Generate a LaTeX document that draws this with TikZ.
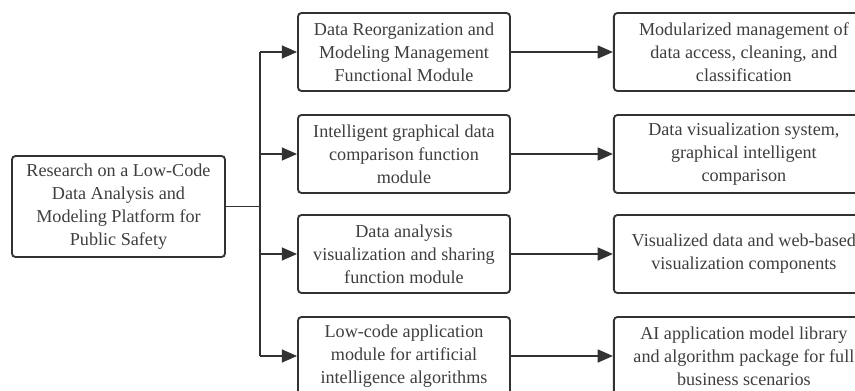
\documentclass[tikz,border=0pt]{standalone}
\usepackage{fontspec}
\setmainfont{Liberation Serif}
\usetikzlibrary{positioning,arrows.meta}
\definecolor{linegray}{RGB}{50,50,50}
\definecolor{textgray}{RGB}{62,62,62}
\tikzset{
	>={Triangle[length=13pt,width=11pt]},
	node distance=3.06cm,
	box/.style={draw=linegray, line width=1.6pt, rounded corners=3pt, align=center,
		text=textgray, inner sep=0pt, font=\fontsize{15.5}{19.5}\selectfont},
	modbox/.style={box, minimum width=6.36cm, minimum height=2.34cm},
	outbox/.style={box, minimum width=7.8cm, minimum height=2.34cm},
}

\begin{document}
\begin{tikzpicture}[x=0.03cm, y=-0.03cm, line width=1.6pt, draw=linegray]
	\clip (0,0) rectangle (855,391);

	\node[box, minimum width=6.39cm, minimum height=3.03cm] (root) at (118.5,206.5)
		{Research on a Low-Code\\Data Analysis and\\Modeling Platform for\\Public Safety};

	% function modules
	\node[modbox] (m1) at (404,52) {Data Reorganization and\\Modeling Management\\Functional Module};
	\node[modbox] (m2) at (404,154) {Intelligent graphical data\\comparison function\\module};
	\node[modbox] (m3) at (404,254) {Data analysis\\visualization and sharing\\function module};
	\node[modbox] (m4) at (404,356) {Low-code application\\module for artificial\\intelligence algorithms};

	% results of each module
	\node[outbox, right=of m1] (r1) {Modularized management of\\data access, cleaning, and\\classification};
	\node[outbox, right=of m2] (r2) {Data visualization system,\\graphical intelligent\\comparison};
	\node[outbox, right=of m3] (r3) {Visualized data and web-based\\visualization components};
	\node[outbox, right=of m4] (r4) {AI application model library\\and algorithm package for full\\business scenarios};

	\coordinate (trunk) at (260,0);
	\draw (root.east) -- (root.east -| trunk);
	\draw (trunk |- m1) -- (trunk |- m4);
	\foreach \i in {1,...,4} {
		\draw[->] (trunk |- m\i) -- (m\i.west);
		\draw[->] (m\i.east) -- (r\i.west);
	}
\end{tikzpicture}
\end{document}
